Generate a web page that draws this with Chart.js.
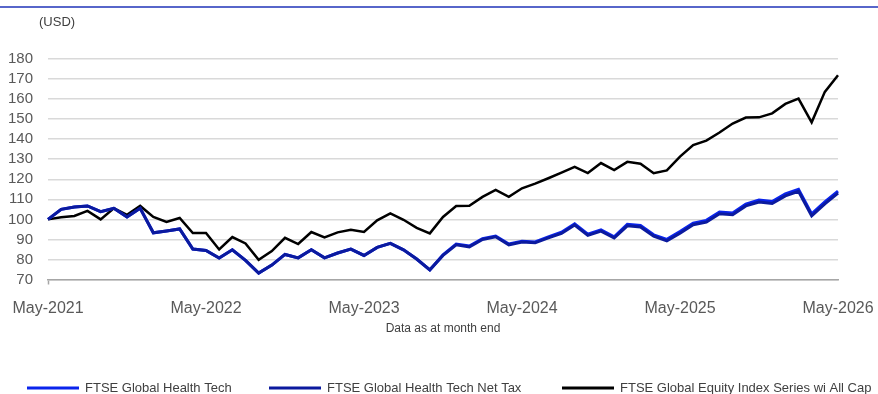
<!DOCTYPE html>
<html>
<head>
<meta charset="utf-8">
<script src="https://cdn.jsdelivr.net/npm/chart.js@4"></script>
<style>
  html, body { margin: 0; padding: 0; background: #ffffff; }
  #wrap { width: 878px; height: 394px; position: relative; }
</style>
</head>
<body>
<div id="wrap"><canvas id="c" width="878" height="394"></canvas></div>
<script>
// Month-end categories, May-2021 .. May-2026
const monthNames = ['Jan','Feb','Mar','Apr','May','Jun','Jul','Aug','Sep','Oct','Nov','Dec'];
const categories = [];
for (let k = 0; k <= 60; k++) {
  const m = (4 + k) % 12;
  const y = 2021 + Math.floor((4 + k) / 12);
  categories.push(monthNames[m] + '-' + y);
}
const tickLabels = ['May-2021', 'May-2022', 'May-2023', 'May-2024', 'May-2025', 'May-2026'];

const seriesNames = [
  'FTSE Global Health Tech',
  'FTSE Global Health Tech Net Tax',
  'FTSE Global Equity Index Series wi All Cap'
];

const healthTech = [
  100, 105, 106.2, 106.7, 103.8, 105.5, 101.2, 105.5, 93.3, 94.2,
  95.2, 85.2, 84.5, 80.7, 84.8, 79.5, 73.2, 77.2, 82.5, 80.8,
  84.8, 80.8, 83.2, 85.2, 82, 86, 88, 84.8, 80.2, 74.8,
  82.3, 87.7, 86.7, 90.4, 91.7, 87.7, 89.1, 88.7, 91.3, 93.6,
  97.8, 92.6, 94.7, 91.3, 97.5, 96.9, 92.3, 90, 93.9, 98.1,
  99.5, 103.7, 103.2, 107.6, 109.6, 108.9, 112.7, 115, 102.7, 108.7,
  114.1
];

const healthTechNetTax = [
  100, 105, 106.2, 106.7, 103.8, 105.5, 101.2, 105.5, 93.3, 94.2,
  95.2, 85.2, 84.5, 80.7, 84.8, 79.5, 73.2, 77.2, 82.5, 80.8,
  84.8, 80.8, 83.2, 85.2, 82, 86, 88, 84.8, 80.2, 74.8,
  82, 87.3, 86.3, 90, 91.3, 87.3, 88.7, 88.3, 90.8, 93,
  97.2, 92, 94.1, 90.7, 96.8, 96.2, 91.6, 89.3, 93.1, 97.3,
  98.6, 102.8, 102.3, 106.7, 108.6, 107.9, 111.7, 114, 101.8, 107.7,
  113.1
];

const globalEquity = [
  100, 101, 101.7, 104.2, 100, 105.5, 102.3, 106.7, 101.2, 98.7,
  100.7, 93.2, 93.2, 85, 91.2, 88, 79.8, 84.2, 90.8, 87.7,
  93.7, 91, 93.5, 94.8, 93.7, 99.5, 103, 99.8, 95.8, 93,
  101.2, 106.7, 106.8, 111.2, 114.7, 111.2, 115.5, 117.8, 120.5, 123.3,
  126.2, 123.1, 128.1, 124.6, 128.7, 127.8, 123, 124.4, 131.3, 137.1,
  139.3, 143.3, 147.8, 150.8, 150.9, 152.9, 157.6, 160.2, 148.4, 163.6,
  171.9
];

const seriesColors = ['#0a24ec', '#0b1a9e', '#000000'];
const FONT = "'Liberation Sans', Arial, Helvetica, sans-serif";

// Thin rule across the top, unit caption, axis caption and the legend row
const decorations = {
  id: 'decorations',
  beforeDraw(chart) {
    const ctx = chart.ctx;
    ctx.save();
    ctx.fillStyle = '#ffffff';
    ctx.fillRect(0, 0, chart.width, chart.height);
    ctx.restore();
  },
  afterDraw(chart) {
    const ctx = chart.ctx;
    const area = chart.chartArea;
    ctx.save();
    ctx.strokeStyle = '#1f33b8';
    ctx.lineWidth = 1.5;
    ctx.beginPath();
    ctx.moveTo(0, 7);
    ctx.lineTo(chart.width, 7);
    ctx.stroke();

    ctx.textBaseline = 'middle';
    ctx.fillStyle = '#404040';
    ctx.font = '13px ' + FONT;
    ctx.textAlign = 'left';
    ctx.fillText('(USD)', 39, 22);

    ctx.font = '12px ' + FONT;
    ctx.textAlign = 'center';
    ctx.fillText('Data as at month end', (area.left + area.right) / 2, 329);

    ctx.textAlign = 'left';
    const starts = [27, 269, 562];
    chart.data.datasets.forEach((ds, i) => {
      const x0 = starts[i];
      const y = 388;
      ctx.strokeStyle = ds.borderColor;
      ctx.lineWidth = 3;
      ctx.beginPath();
      ctx.moveTo(x0, y);
      ctx.lineTo(x0 + 52, y);
      ctx.stroke();
      ctx.fillStyle = '#404040';
      ctx.font = '13px ' + FONT;
      ctx.fillText(ds.label, x0 + 58, y);
    });
    ctx.restore();
  }
};

new Chart(document.getElementById('c'), {
  type: 'line',
  data: {
    labels: categories,
    datasets: [
      { label: seriesNames[0], data: healthTech, borderColor: seriesColors[0], borderWidth: 3, order: 1 },
      { label: seriesNames[1], data: healthTechNetTax, borderColor: seriesColors[1], borderWidth: 3, order: 0 },
      { label: seriesNames[2], data: globalEquity, borderColor: seriesColors[2], borderWidth: 2.5, order: 2 }
    ]
  },
  options: {
    responsive: false,
    animation: false,
    devicePixelRatio: 1,
    layout: { padding: { top: 59, right: 40, bottom: 61.5, left: 0 } },
    elements: {
      point: { radius: 0, hoverRadius: 0 },
      line: { tension: 0, borderJoinStyle: 'miter', borderCapStyle: 'butt' }
    },
    plugins: { legend: { display: false }, tooltip: { enabled: false } },
    scales: {
      x: {
        type: 'category',
        offset: false,
        grid: {
          drawOnChartArea: false,
          drawTicks: true,
          tickLength: 5,
          tickWidth: 1.5,
          tickColor: (c) => tickLabels.includes(categories[c.index]) ? '#a6a6a6' : 'rgba(0,0,0,0)'
        },
        border: { color: '#a6a6a6', width: 1.5 },
        ticks: {
          autoSkip: false,
          maxRotation: 0,
          padding: 0,
          color: '#595959',
          font: { family: FONT, size: 16, lineHeight: 3.0 },
          callback: (v, i) => tickLabels.includes(categories[i]) ? categories[i] : null
        }
      },
      y: {
        min: 70,
        max: 180,
        ticks: {
          autoSkip: false,
          stepSize: 10,
          padding: 15,
          color: '#595959',
          font: { family: FONT, size: 15 }
        },
        grid: { color: '#d9d9d9', lineWidth: 1.5, drawTicks: false },
        border: { display: false },
        afterFit: (s) => { s.width = 48; }
      }
    }
  },
  plugins: [decorations]
});
</script>
</body>
</html>
